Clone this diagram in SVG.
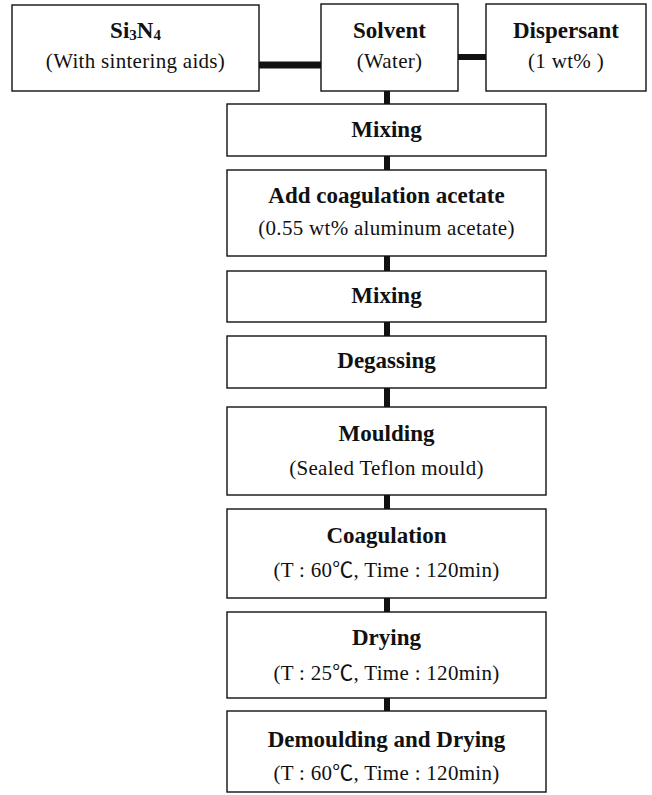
<svg xmlns="http://www.w3.org/2000/svg" width="652" height="795" viewBox="0 0 652 795">
<style>
.box{fill:#fff;stroke:#111;stroke-width:1.4}
.t{font-family:"Liberation Serif","Times New Roman",serif;font-weight:bold;font-size:23px;fill:#111;text-anchor:middle}
.s{font-family:"Liberation Serif","Times New Roman","Noto Sans CJK KR",serif;font-size:21px;letter-spacing:0.3px;fill:#111;text-anchor:middle}
.c{fill:#111}
</style>
<rect width="652" height="795" fill="#fff"/>
<g id="connectors">
<rect class="c" x="259" y="61.5" width="62" height="7"/>
<rect class="c" x="458" y="54" width="28" height="6"/>
<rect class="c" x="384" y="91" width="6" height="13"/>
<rect class="c" x="384" y="156" width="6" height="14"/>
<rect class="c" x="384" y="256" width="6" height="15"/>
<rect class="c" x="384" y="322" width="6" height="14"/>
<rect class="c" x="384" y="388" width="6" height="19"/>
<rect class="c" x="384" y="495" width="6" height="14"/>
<rect class="c" x="384" y="598" width="6" height="14"/>
<rect class="c" x="384" y="698" width="6" height="13"/>
</g>
<g id="si3n4">
<rect class="box" x="12" y="5" width="247" height="86"/>
<text class="t" x="135.5" y="38">Si<tspan font-size="15" dy="2">3</tspan><tspan dy="-2">N</tspan><tspan font-size="15" dy="2">4</tspan></text>
<text class="s" x="135.5" y="68">(With sintering aids)</text>
</g>
<g id="solvent">
<rect class="box" x="321" y="4" width="137" height="87"/>
<text class="t" x="389.5" y="38">Solvent</text>
<text class="s" x="389.5" y="68">(Water)</text>
</g>
<g id="dispersant">
<rect class="box" x="486" y="4" width="160" height="87"/>
<text class="t" x="566" y="38">Dispersant</text>
<text class="s" x="566" y="68">(1 wt% )</text>
</g>
<g id="mixing1">
<rect class="box" x="227" y="104" width="319" height="52"/>
<text class="t" x="386.5" y="137">Mixing</text>
</g>
<g id="add">
<rect class="box" x="227" y="170" width="319" height="86"/>
<text class="t" x="386.5" y="203">Add coagulation acetate</text>
<text class="s" x="386.5" y="235">(0.55 wt% aluminum acetate)</text>
</g>
<g id="mixing2">
<rect class="box" x="227" y="271" width="319" height="51"/>
<text class="t" x="386.5" y="303">Mixing</text>
</g>
<g id="degassing">
<rect class="box" x="227" y="336" width="319" height="52"/>
<text class="t" x="386.5" y="368">Degassing</text>
</g>
<g id="moulding">
<rect class="box" x="227" y="407" width="319" height="88"/>
<text class="t" x="386.5" y="441">Moulding</text>
<text class="s" x="386.5" y="475">(Sealed Teflon mould)</text>
</g>
<g id="coagulation">
<rect class="box" x="227" y="509" width="319" height="89"/>
<text class="t" x="386.5" y="543">Coagulation</text>
<text class="s" x="386.5" y="577">(T : 60℃, Time : 120min)</text>
</g>
<g id="drying">
<rect class="box" x="227" y="612" width="319" height="86"/>
<text class="t" x="386.5" y="645">Drying</text>
<text class="s" x="386.5" y="680">(T : 25℃, Time : 120min)</text>
</g>
<g id="demoulding">
<rect class="box" x="227" y="711" width="319" height="81"/>
<text class="t" x="386.5" y="747">Demoulding and Drying</text>
<text class="s" x="386.5" y="780">(T : 60℃, Time : 120min)</text>
</g>
</svg>
